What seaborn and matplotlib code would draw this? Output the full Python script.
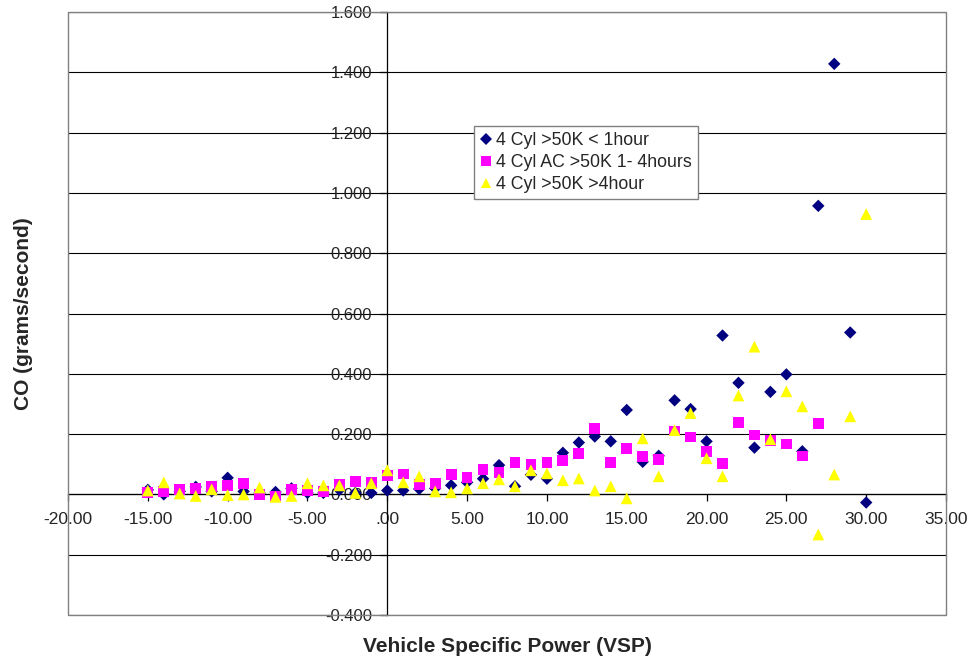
import numpy as np
import pandas as pd
import matplotlib
matplotlib.use("Agg")
import matplotlib.pyplot as plt
from matplotlib.patches import Rectangle
from matplotlib.ticker import FuncFormatter
import seaborn as sns

# ---------------- data ----------------
vsp_blue = [-15, -14, -13, -12, -11, -10, -9, -8, -7, -6, -5, -4, -3, -2, -1, 0,
            1, 2, 3, 4, 5, 6, 7, 8, 9, 10, 11, 12, 13, 14, 15, 16, 17, 18, 19, 20,
            21, 22, 23, 24, 25, 26, 27, 28, 29, 30]
co_blue = [0.015, 0.000, 0.010, 0.025, 0.010, 0.055, 0.010, 0.005, 0.008, 0.020,
           0.005, 0.005, 0.015, 0.005, 0.005, 0.013, 0.013, 0.018, 0.020, 0.030,
           0.040, 0.052, 0.097, 0.027, 0.065, 0.052, 0.138, 0.172, 0.192, 0.176,
           0.280, 0.108, 0.128, 0.312, 0.283, 0.176, 0.527, 0.370, 0.155, 0.340,
           0.398, 0.143, 0.957, 1.428, 0.537, -0.027]

vsp_pink = [-15, -14, -13, -12, -11, -10, -9, -8, -7, -6, -5, -4, -3, -2, -1, 0,
            1, 2, 3, 4, 5, 6, 7, 8, 9, 10, 11, 12, 13, 14, 15, 16, 17, 18, 19, 20,
            21, 22, 23, 24, 25, 26, 27]
co_pink = [0.007, 0.010, 0.017, 0.020, 0.027, 0.030, 0.037, 0.000, -0.005, 0.017,
           0.012, 0.010, 0.033, 0.043, 0.040, 0.062, 0.068, 0.033, 0.037, 0.066,
           0.057, 0.083, 0.073, 0.106, 0.100, 0.106, 0.113, 0.135, 0.218, 0.106,
           0.152, 0.126, 0.116, 0.210, 0.190, 0.143, 0.102, 0.238, 0.197, 0.180,
           0.167, 0.127, 0.236]

vsp_yellow = [-15, -14, -13, -12, -11, -10, -9, -8, -7, -6, -5, -4, -3, -2, -1, 0,
              1, 2, 3, 4, 5, 6, 7, 8, 9, 10, 11, 12, 13, 14, 15, 16, 17, 18, 19, 20,
              21, 22, 23, 24, 25, 26, 27, 28, 29, 30]
co_yellow = [0.013, 0.040, 0.003, -0.005, 0.017, -0.002, 0.000, 0.023, -0.008, -0.005,
             0.037, 0.030, 0.030, 0.005, 0.037, 0.080, 0.040, 0.060, 0.010, 0.007,
             0.020, 0.037, 0.050, 0.027, 0.080, 0.070, 0.047, 0.053, 0.013, 0.027,
             -0.013, 0.186, 0.060, 0.213, 0.270, 0.120, 0.060, 0.328, 0.490, 0.183,
             0.342, 0.292, -0.133, 0.066, 0.259, 0.930]

series_names = ["4 Cyl >50K < 1hour", "4 Cyl AC >50K 1- 4hours", "4 Cyl >50K >4hour"]
x_ticks = [-20, -15, -10, -5, 0, 5, 10, 15, 20, 25, 30, 35]
y_ticks = [-0.4, -0.2, 0.0, 0.2, 0.4, 0.6, 0.8, 1.0, 1.2, 1.4, 1.6]

df = pd.concat([
    pd.DataFrame({"VSP": vsp_blue, "CO": co_blue, "series": series_names[0]}),
    pd.DataFrame({"VSP": vsp_pink, "CO": co_pink, "series": series_names[1]}),
    pd.DataFrame({"VSP": vsp_yellow, "CO": co_yellow, "series": series_names[2]}),
], ignore_index=True)

# ---------------- style ----------------
sns.set_theme(style="white")
plt.rcParams["font.family"] = ["Liberation Sans", "DejaVu Sans"]

palette = {series_names[0]: "#000080", series_names[1]: "#FF00FF", series_names[2]: "#FFFF00"}
markers = {series_names[0]: "D", series_names[1]: "s", series_names[2]: "^"}
sizes = {series_names[0]: 40, series_names[1]: 60, series_names[2]: 72}

fig = plt.figure(figsize=(9.69, 6.63), dpi=100)
fig.patch.set_facecolor("white")
ax = fig.add_axes([68 / 969, (663 - 615) / 663, 878 / 969, 603 / 663])
ax.set_facecolor("white")

sns.scatterplot(data=df, x="VSP", y="CO", hue="series", style="series",
                size="series", sizes=sizes, palette=palette, markers=markers,
                linewidth=0, edgecolor="none", ax=ax, zorder=3)

ax.set_xlim(-20, 35)
ax.set_ylim(-0.4, 1.6)
ax.set_xticks(x_ticks)
ax.set_yticks(y_ticks)

ax.xaxis.set_major_formatter(FuncFormatter(lambda v, p: ".00" if abs(v) < 1e-9 else f"{v:.2f}"))
ax.yaxis.set_major_formatter(FuncFormatter(lambda v, p: "0.000" if abs(v) < 1e-9 else f"{v:.3f}"))

# axes crossing at zero
for s in ["top", "right"]:
    ax.spines[s].set_visible(False)
ax.spines["left"].set_position(("data", 0))
ax.spines["bottom"].set_position(("data", 0))
for s in ["left", "bottom"]:
    ax.spines[s].set_color("black")
    ax.spines[s].set_linewidth(0.9)
    ax.spines[s].set_zorder(2)

ax.add_patch(Rectangle((0, 0), 1, 1, transform=ax.transAxes, fill=False,
                       edgecolor="#808080", linewidth=1.0, clip_on=False, zorder=4))

ax.yaxis.grid(True, color="black", linewidth=0.8)
ax.xaxis.grid(False)
ax.set_axisbelow(True)

ax.tick_params(axis="x", direction="out", length=5, width=0.9, color="black",
               labelsize=12.5, pad=8, bottom=True)
ax.tick_params(axis="y", direction="out", length=5, width=0.9, color="black",
               labelsize=12, pad=6, left=True)

ax.set_xlabel("Vehicle Specific Power (VSP)", fontsize=15, fontweight="bold")
ax.set_ylabel("CO (grams/second)", fontsize=15, fontweight="bold")
ax.xaxis.set_label_coords(0.5, -0.037)
ax.yaxis.set_label_coords(-0.04, 0.5)

# legend
old = ax.get_legend()
handles = old.legend_handles
labels = [t.get_text() for t in old.get_texts()]
old.remove()
leg = ax.legend(handles, labels, loc="upper left",
                bbox_to_anchor=((474 - 68) / 878, 1 - (126 - 12) / 603),
                borderaxespad=0, fontsize=12.8, frameon=True, fancybox=False,
                edgecolor="#808080", framealpha=1, handlelength=0.6,
                handletextpad=0.3, labelspacing=0.28, borderpad=0.35,
                markerscale=0.9)
leg.get_frame().set_linewidth(1.0)
leg.set_zorder(5)

fig.savefig("out.png", dpi=100, facecolor="white")
